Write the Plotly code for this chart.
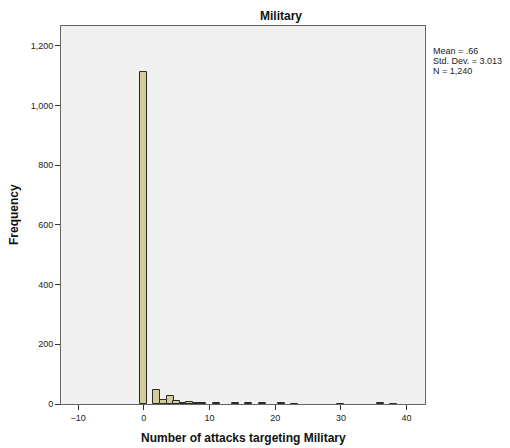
import plotly.graph_objects as go

# Frequency of "number of attacks targeting Military" per value
attack_counts = [0, 2, 3, 4, 5, 6, 7, 8, 9, 11, 14, 16, 18, 21, 23, 30, 36, 38]
frequency = [1112, 47, 13, 27, 10, 4, 8, 3, 2, 2, 2, 2, 4, 2, 1, 1, 2, 1]

x_ticks = [-10, 0, 10, 20, 30, 40]
y_ticks = [0, 200, 400, 600, 800, 1000, 1200]
y_tick_text = ["0", "200", "400", "600", "800", "1,000", "1,200"]

stats_lines = ["Mean = .66", "Std. Dev. = 3.013", "N = 1,240"]

FONT = "Liberation Sans, Arial, sans-serif"

fig = go.Figure()
fig.add_trace(go.Bar(
    x=attack_counts,
    y=frequency,
    width=1.05,
    marker=dict(color="rgb(211,206,151)", line=dict(color="#2b2b2b", width=1)),
    showlegend=False,
))

fig.update_layout(
    width=510,
    height=448,
    margin=dict(l=61, r=85, t=26, b=44),
    paper_bgcolor="white",
    plot_bgcolor="#F0F0F0",
    font=dict(family=FONT, size=9, color="#222"),
    bargap=0,
    xaxis=dict(
        range=[-12.6, 42.8],
        tickvals=x_ticks,
        ticks="outside",
        ticklen=5,
        tickcolor="#333",
        showgrid=False,
        zeroline=False,
        showline=True,
        linecolor="#666",
        mirror=True,
        automargin=False,
        tickfont=dict(size=9, family=FONT),
    ),
    yaxis=dict(
        range=[0, 1267],
        tickvals=y_ticks,
        ticktext=y_tick_text,
        ticks="outside",
        ticklen=5,
        tickcolor="#333",
        showgrid=False,
        zeroline=False,
        showline=True,
        linecolor="#666",
        mirror=True,
        automargin=False,
        tickfont=dict(size=9, family=FONT),
    ),
)

title_font = dict(size=12, family=FONT, color="#111")

fig.add_annotation(
    text="<b>Military</b>", xref="paper", yref="paper",
    x=0.604, y=1.0, xanchor="center", yanchor="bottom", yshift=1,
    showarrow=False, font=title_font,
)
fig.add_annotation(
    text="<b>Number of attacks targeting Military</b>", xref="paper", yref="paper",
    x=0.5, y=-0.09, xanchor="center", yanchor="middle",
    showarrow=False, font=title_font,
)
fig.add_annotation(
    text="<b>Frequency</b>", xref="paper", yref="paper",
    x=-0.129, y=0.5, xanchor="center", yanchor="middle", textangle=-90,
    showarrow=False, font=title_font,
)

# Summary statistics, one line each, stacked down the right margin
for i, line in enumerate(stats_lines):
    fig.add_annotation(
        text=line, xref="paper", yref="paper",
        x=1.0, y=0.934 - i * 0.0265, xanchor="left", yanchor="middle", xshift=6,
        align="left", showarrow=False,
        font=dict(size=9, family=FONT, color="#222"),
    )

fig.write_html("out.html")
